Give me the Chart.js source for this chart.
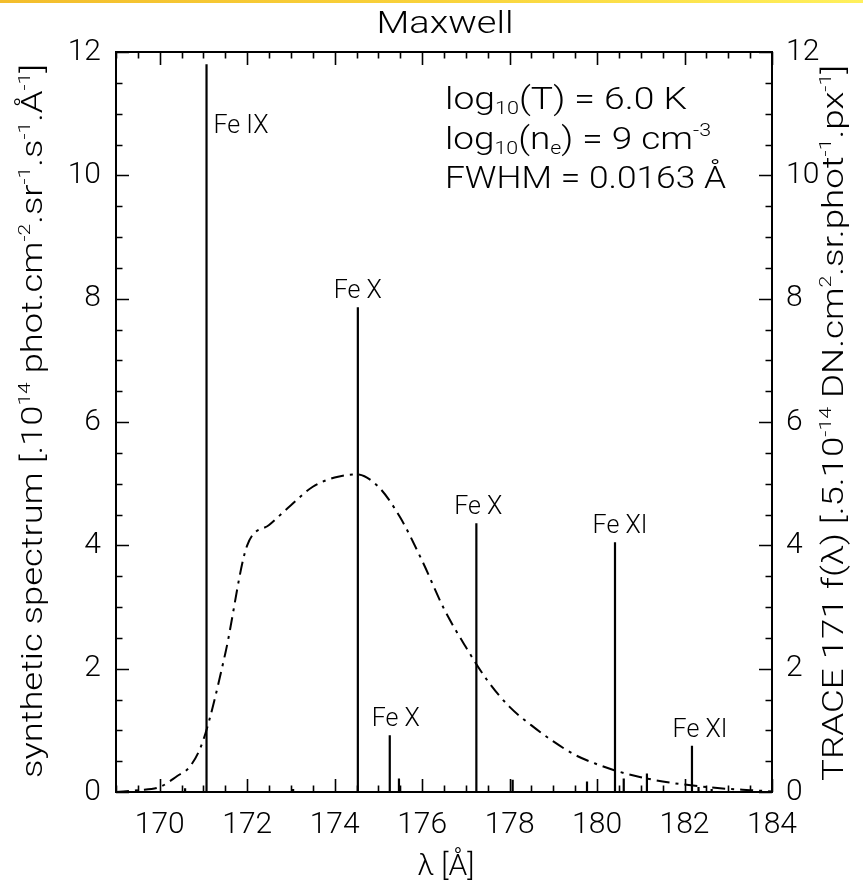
<!DOCTYPE html>
<html>
<head>
<meta charset="utf-8">
<title>Maxwell</title>
<script src="https://cdn.jsdelivr.net/npm/chart.js@4.4.1/dist/chart.umd.min.js"></script>
<style>
  html, body { margin: 0; padding: 0; background: #fff; }
  #wrap { position: relative; width: 863px; height: 888px; }
  #topbar { position: absolute; left: 0; top: 0; width: 863px; height: 3px;
            background: linear-gradient(to right, #f3bd2c, #f9d23a 50%, #fff05c); }
</style>
</head>
<body>
<div id="wrap">
  <canvas id="spectrum-chart" width="863" height="888"></canvas>
  <div id="topbar"></div>
</div>
<script>
// synthetic lines: wavelength [A] and peak intensity [1e14 phot/cm2/sr/s/A]
var lineWl  = [170.58, 171.07, 173.05, 174.53, 175.26, 175.47, 177.24, 178.07, 179.77, 180.41, 180.61, 181.14, 182.17, 182.32, 182.62];
var lineInt = [0.06, 11.8, 0.05, 7.86, 0.92, 0.22, 4.36, 0.20, 0.17, 4.05, 0.22, 0.30, 0.75, 0.08, 0.05];

// ion identifications
var ionNames = ['Fe IX', 'Fe X', 'Fe X', 'Fe X', 'Fe XI', 'Fe XI'];
var ionWl    = [171.07, 174.53, 175.26, 177.24, 180.41, 182.17];

// TRACE 171 response f(lambda)
var respWl  = [169.0, 169.5, 170.0, 170.4, 170.7, 171.0, 171.5, 172.0, 172.5, 173.0, 173.5, 174.0, 174.5, 175.0, 175.5, 176.0,
               176.5, 177.0, 177.5, 178.0, 178.5, 179.0, 179.5, 180.0, 180.5, 181.0, 181.5, 182.0, 182.5, 183.0, 183.5, 184.0];
var respVal = [0.0, 0.03, 0.08, 0.26, 0.42, 0.85, 2.25, 4.0, 4.33, 4.65, 4.95, 5.1, 5.15, 4.95, 4.45, 3.75,
               2.97, 2.35, 1.8, 1.38, 1.08, 0.82, 0.6, 0.45, 0.33, 0.24, 0.17, 0.12, 0.08, 0.05, 0.03, 0.01];

var xTicks = [170, 172, 174, 176, 178, 180, 182, 184];
var yTicks = [0, 2, 4, 6, 8, 10, 12];

var FONT = 'Roboto, "Liberation Sans", Arial, sans-serif';
var WEIGHT = '300';

// each line is a spike from 0 up to its peak, broken by a null point
function spikes() {
    var pts = [];
    for (var i = 0; i < lineWl.length; i++) {
        pts.push({x: lineWl[i], y: 0});
        pts.push({x: lineWl[i], y: lineInt[i]});
        pts.push({x: lineWl[i], y: null});
    }
    return pts;
}

function respPoints() {
    return respWl.map(function (w, i) { return {x: w, y: respVal[i]}; });
}

// text with sub/superscripts: parts = [[text, 0|1|-1], ...]
function drawRich(ctx, parts, x, y, size, opt) {
    opt = opt || {};
    var widths = [], total = 0;
    parts.forEach(function (p) {
        ctx.font = WEIGHT + ' ' + (p[1] ? size * 0.58 : size) + 'px ' + FONT;
        var w = ctx.measureText(p[0]).width;
        widths.push(w);
        total += w;
    });
    var sx = opt.fit ? opt.fit / total : 1;
    ctx.save();
    ctx.translate(x, y);
    if (opt.rot) ctx.rotate(opt.rot);
    ctx.scale(sx, 1);
    ctx.fillStyle = '#000';
    ctx.textAlign = 'left';
    ctx.textBaseline = 'alphabetic';
    var cx = opt.align === 'center' ? -total / 2 : (opt.align === 'right' ? -total : 0);
    parts.forEach(function (p, i) {
        var dy = p[1] > 0 ? -size * 0.42 : (p[1] < 0 ? size * 0.16 : 0);
        ctx.font = WEIGHT + ' ' + (p[1] ? size * 0.58 : size) + 'px ' + FONT;
        ctx.fillText(p[0], cx, dy);
        cx += widths[i];
    });
    ctx.restore();
}

var frame = {
    id: 'frame',
    afterDraw: function (chart) {
        var ctx = chart.ctx, a = chart.chartArea;
        var xs = chart.scales.x, ys = chart.scales.y;
        ctx.save();
        ctx.strokeStyle = '#000';
        ctx.lineWidth = 2;
        ctx.strokeRect(a.left, a.top, a.right - a.left, a.bottom - a.top);

        // inward ticks, minor every 0.5
        ctx.lineWidth = 1.6;
        ctx.beginPath();
        for (var v = 169; v <= 184.001; v += 0.5) {
            var px = Math.round(xs.getPixelForValue(v)) + 0.5;
            var len = xTicks.indexOf(v) >= 0 ? 13 : 6.5;
            ctx.moveTo(px, a.bottom); ctx.lineTo(px, a.bottom - len);
            ctx.moveTo(px, a.top); ctx.lineTo(px, a.top + len);
        }
        for (var u = 0; u <= 12.001; u += 0.5) {
            var py = Math.round(ys.getPixelForValue(u)) + 0.5;
            var l2 = yTicks.indexOf(u) >= 0 ? 13 : 6.5;
            ctx.moveTo(a.left, py); ctx.lineTo(a.left + l2, py);
            ctx.moveTo(a.right, py); ctx.lineTo(a.right - l2, py);
        }
        ctx.stroke();
        ctx.restore();

        // ion labels over their lines
        var dx = [7, 0, 6, 2, 5, 8];
        ionNames.forEach(function (name, i) {
            var h = lineInt[lineWl.indexOf(ionWl[i])];
            var px = xs.getPixelForValue(ionWl[i]) + dx[i];
            var top = ys.getPixelForValue(h);
            if (i === 0) {
                drawRich(ctx, [[name, 0]], px, top + 69, 25, {align: 'left'});
            } else {
                drawRich(ctx, [[name, 0]], px, top - 9, 25, {align: 'center'});
            }
        });

        // plasma parameters
        drawRich(ctx, [['log', 0], ['10', -1], ['(T) = 6.0 K', 0]], 445, 109, 31, {fit: 242});
        drawRich(ctx, [['log', 0], ['10', -1], ['(n', 0], ['e', -1], [') = 9 cm', 0], ['-3', 1]], 445, 149, 31, {fit: 266});
        drawRich(ctx, [['FWHM = 0.0163 \u00c5', 0]], 445, 188, 31, {fit: 281});

        // titles
        drawRich(ctx, [['Maxwell', 0]], 445, 33, 31, {align: 'center', fit: 137});
        drawRich(ctx, [['\u03bb [\u00c5]', 0]], 446, 875, 30, {align: 'center'});
        drawRich(ctx, [
            ['synthetic spectrum [.10', 0], ['14', 1], [' phot.cm', 0], ['-2', 1], ['.sr', 0], ['-1', 1],
            ['.s', 0], ['-1', 1], ['.\u00c5', 0], ['-1', 1], [']', 0]
        ], 42, 421, 29, {align: 'center', rot: -Math.PI / 2, fit: 714});
        drawRich(ctx, [
            ['TRACE 171 f(\u03bb) [.5.10', 0], ['-14', 1], [' DN.cm', 0], ['2', 1], ['.sr.phot', 0], ['-1', 1],
            ['.px', 0], ['-1', 1], [']', 0]
        ], 843, 423, 29, {align: 'center', rot: -Math.PI / 2, fit: 716});
    }
};

function tickSetter(list) {
    return function (scale) {
        scale.ticks = list.map(function (v) { return {value: v}; });
    };
}

var handleChart = function () {
    var ctx = document.getElementById('spectrum-chart').getContext('2d');
    Chart.defaults.font.family = FONT;
    Chart.defaults.font.weight = WEIGHT;
    Chart.defaults.color = '#000';
    window.spectrumChart = new Chart(ctx, {
        type: 'line',
        data: {
            datasets: [{
                data: spikes(),
                borderColor: '#000',
                borderWidth: 2.2,
                pointRadius: 0,
                tension: 0,
                spanGaps: false,
                yAxisID: 'y'
            }, {
                data: respPoints(),
                borderColor: '#000',
                borderWidth: 2,
                borderDash: [13, 6, 3, 6],
                pointRadius: 0,
                cubicInterpolationMode: 'monotone',
                yAxisID: 'y2'
            }]
        },
        options: {
            responsive: false,
            animation: false,
            devicePixelRatio: 1,
            layout: {padding: {top: 52, left: 0, right: 0, bottom: 0}},
            plugins: {legend: {display: false}, tooltip: {enabled: false}},
            scales: {
                x: {
                    type: 'linear', min: 169, max: 184,
                    afterBuildTicks: tickSetter(xTicks),
                    afterFit: function (s) { s.height = 96; },
                    grid: {display: false, drawTicks: false},
                    border: {display: false},
                    ticks: {font: {size: 30, weight: WEIGHT}, color: '#000', padding: 15, maxRotation: 0, autoSkip: false}
                },
                y: {
                    type: 'linear', position: 'left', min: 0, max: 12,
                    afterBuildTicks: tickSetter(yTicks),
                    afterFit: function (s) { s.width = 116; },
                    grid: {display: false, drawTicks: false},
                    border: {display: false},
                    ticks: {font: {size: 30, weight: WEIGHT}, color: '#000', padding: 15, autoSkip: false}
                },
                y2: {
                    type: 'linear', position: 'right', min: 0, max: 12, display: true,
                    afterBuildTicks: tickSetter(yTicks),
                    afterFit: function (s) { s.width = 91; },
                    grid: {display: false, drawTicks: false},
                    border: {display: false},
                    ticks: {font: {size: 30, weight: WEIGHT}, color: '#000', padding: 14, autoSkip: false}
                }
            }
        },
        plugins: [frame]
    });
};

handleChart();
</script>
</body>
</html>
